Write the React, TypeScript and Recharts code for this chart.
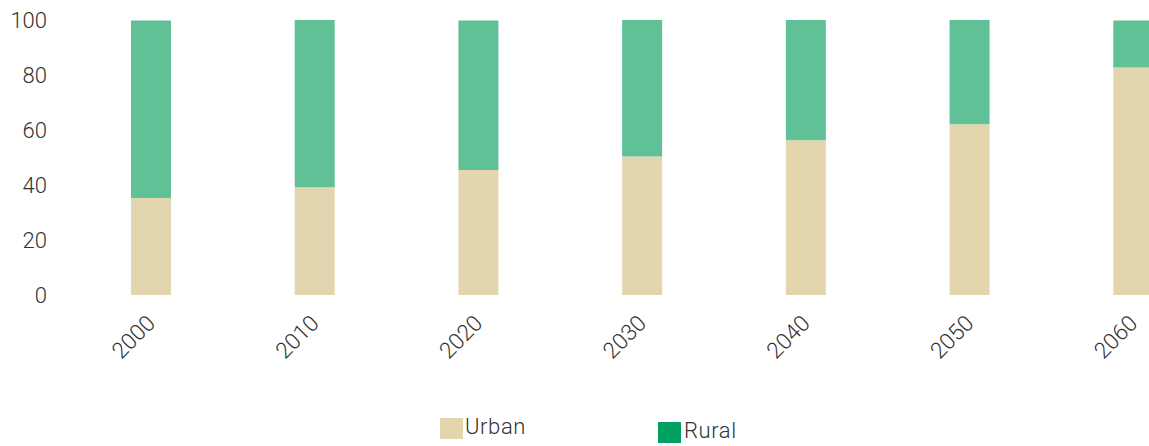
import React from "react";
import { BarChart, Bar, XAxis, YAxis, Legend } from "recharts";

const years = ["2000", "2010", "2020", "2030", "2040", "2050", "2060"];
const urban = [35.3, 39.3, 45.5, 50.5, 56.4, 62.2, 82.9];
const rural = [64.7, 60.9, 54.5, 49.7, 43.8, 38.0, 17.1];
const yTicks = [0, 20, 40, 60, 80, 100];

const URBAN_COLOR = "#E3D6AF";
const RURAL_COLOR = "#60C197";
const RURAL_LEGEND = "#00A060";
const FONT = "Roboto, 'Liberation Sans', sans-serif";

const data = years.map((y, i) => ({ year: y, Urban: urban[i], Rural: rural[i] }));

const XTick = (props: any) => {
  const { x, y, payload } = props;
  const ax = x;
  const ay = y + 22;
  return (
    <text
      x={ax}
      y={ay}
      transform={`rotate(-45, ${ax}, ${ay})`}
      textAnchor="end"
      dominantBaseline="central"
      fontSize={22.5}
      fontFamily={FONT}
      fontWeight={300}
      fill="#333"
    >
      {payload.value}
    </text>
  );
};

const LegendContent = () => (
  <div style={{ position: "relative", height: 0, width: "100%", fontFamily: FONT, fontWeight: 300, fontSize: 22, color: "#333" }}>
    <div style={{ position: "absolute", left: 432, top: 410, width: 23, height: 21, background: URBAN_COLOR }} />
    <div style={{ position: "absolute", left: 457, top: 405, lineHeight: "28px", letterSpacing: 0.6 }}>Urban</div>
    <div style={{ position: "absolute", left: 650, top: 414, width: 23, height: 21, background: RURAL_LEGEND }} />
    <div style={{ position: "absolute", left: 676, top: 409, lineHeight: "28px", letterSpacing: 0.6 }}>Rural</div>
  </div>
);

export default function App() {
  return (
    <div style={{ position: "absolute", width: 1141, height: 438, overflow: "hidden" }}>
      <BarChart
        width={1220}
        height={438}
        data={data}
        margin={{ top: 12, right: 13, bottom: 121, left: 0 }}
        barSize={40}
      >
        <YAxis
          width={61}
          domain={[0, 100]}
          ticks={yTicks}
          axisLine={false}
          tickLine={false}
          tickSize={0}
          tickMargin={22}
          interval={0}
          tick={{ fontSize: 22, fontFamily: FONT, fontWeight: 300, fill: "#333" }}
        />
        <XAxis
          dataKey="year"
          axisLine={false}
          tickLine={false}
          tickSize={0}
          interval={0}
          tick={<XTick />}
          height={30}
        />
        <Legend
          content={<LegendContent />}
          wrapperStyle={{ position: "absolute", left: 0, top: 0, width: "100%", height: 0 }}
        />
        <Bar dataKey="Urban" stackId="a" fill={URBAN_COLOR} isAnimationActive={false} />
        <Bar dataKey="Rural" stackId="a" fill={RURAL_COLOR} isAnimationActive={false} />
      </BarChart>
    </div>
  );
}
